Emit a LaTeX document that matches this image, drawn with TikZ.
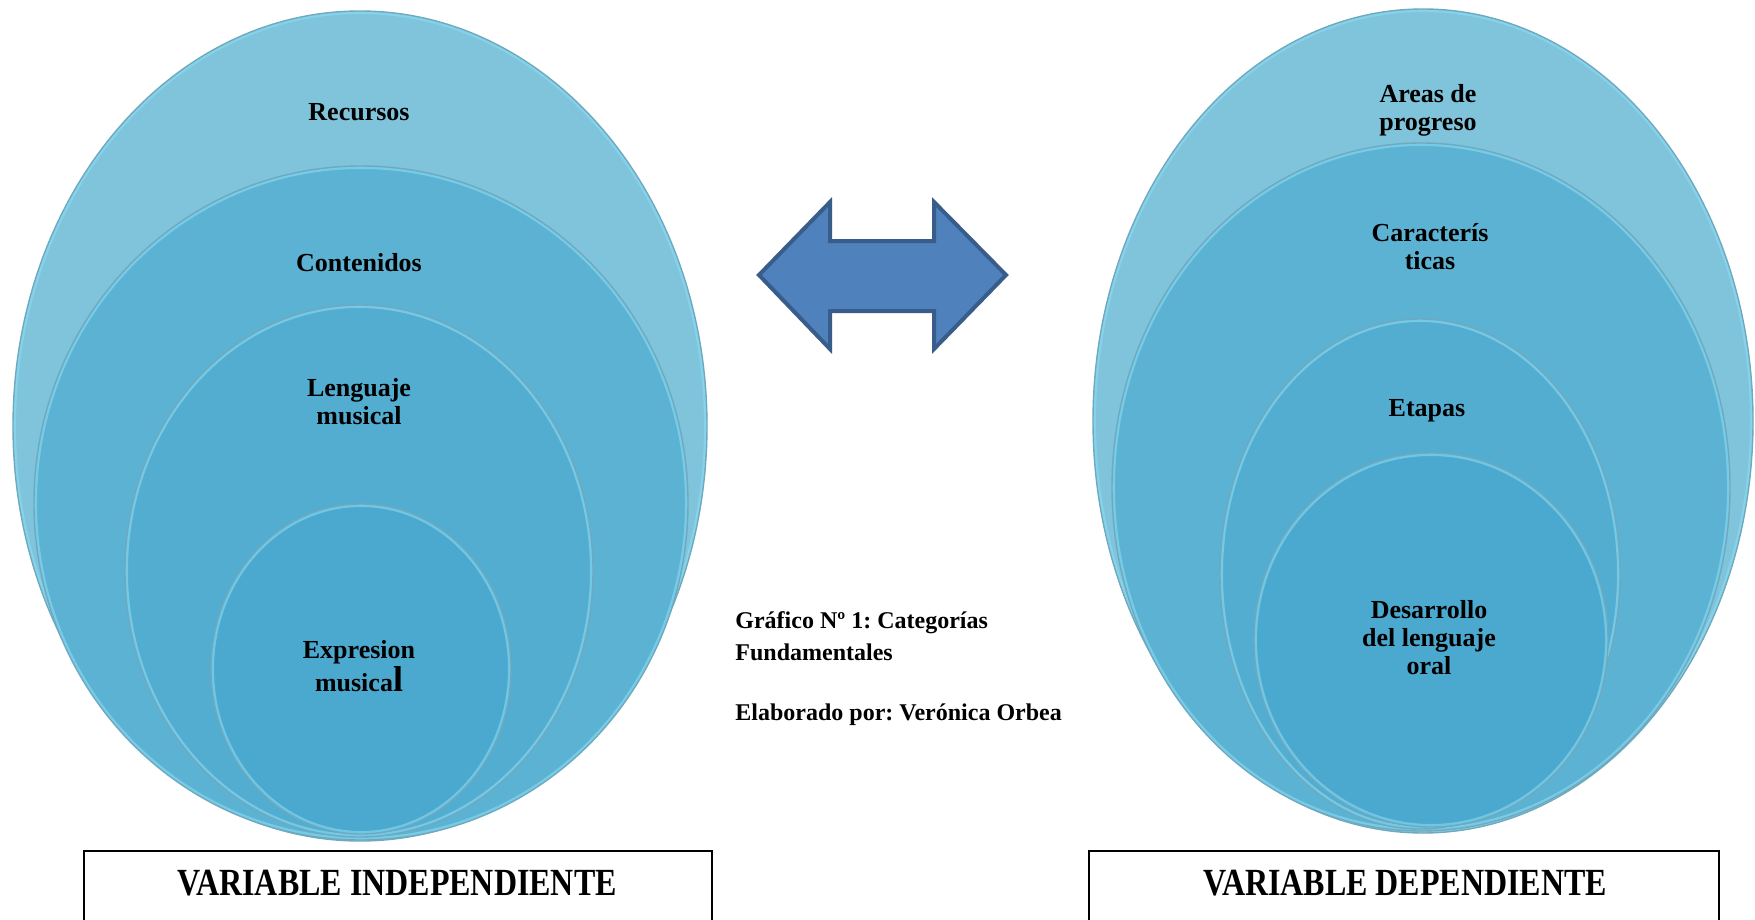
\documentclass[tikz,border=0pt]{standalone}
\usepackage{graphicx}
\usepackage{fontspec}
\setmainfont{Liberation Serif}
\usetikzlibrary{positioning}
\frenchspacing

\definecolor{ringA}{HTML}{80C4DC}
\definecolor{ringB}{HTML}{5CB2D2}
\definecolor{ringC}{HTML}{52ADD1}
\definecolor{ringD}{HTML}{4BA9CF}
\definecolor{rimcol}{HTML}{6FA9BE}
\definecolor{glowcol}{HTML}{8ADCF5}
\definecolor{arrowfill}{HTML}{4F81BD}
\definecolor{arrowline}{HTML}{385D8A}

\tikzset{
  rimglow/.style={draw=glowcol, line width=3pt, opacity=0.6},
  rimline/.style={draw=rimcol, line width=0.7pt},
  ringlabel/.style={font=\bfseries\fontsize{13}{14}\selectfont, align=center, inner sep=0pt},
  caption/.style={font=\bfseries\fontsize{12}{16}\selectfont, align=left, inner sep=0pt},
  vartitle/.style={font=\bfseries\fontsize{16}{18}\selectfont, inner sep=0pt},
  varframe/.style={draw=black, line width=1pt},
  dblarrow/.style={fill=arrowfill, draw=arrowline, line width=2pt, line join=miter}
}

\begin{document}
\begin{tikzpicture}[x=0.5pt, y=-0.5pt]
  \useasboundingbox (0,0) rectangle (1755,920);

  % Rings, outer first: centre x/y, radii, colour
  \foreach \cx/\cy/\rx/\ry/\col in {
    360/426/347/415/ringA,
    361/503/327/337/ringB,
    359/571/234/266/ringC,
    361/669/150/165/ringD,
    1423/421/330/412/ringA,
    1421/487/309/344/ringB,
    1420/574/200/255/ringC,
    1431/640/177/187/ringD%
  }{
    \fill[fill=\col] (\cx,\cy) ellipse [x radius=\rx, y radius=\ry];
    \begin{scope}
      \clip (\cx,\cy) ellipse [x radius=\rx, y radius=\ry];
      \draw[rimglow] (\cx,\cy) ellipse [x radius=\rx, y radius=\ry];
    \end{scope}
    \draw[rimline] (\cx,\cy) ellipse [x radius=\rx, y radius=\ry];
  }

  % Labels of the left rings
  \node[ringlabel] (recursos) at (359,112) {Recursos};
  \node[ringlabel] (contenidos) at (359,263) {Contenidos};
  \node[ringlabel] (lenguaje) at (359,402) {Lenguaje\\musical};
  \node[ringlabel] (expresion) at (359,666) {Expresion\\musica{\fontsize{18}{18}\selectfont l}};

  % Labels of the right rings
  \node[ringlabel] (areas) at (1428,110) {Areas de\\progreso};
  \node[ringlabel] (caracteristicas) at (1430,247) {Caracterís\\ticas};
  \node[ringlabel] (etapas) at (1427,411) {Etapas};
  \node[ringlabel] (desarrollo) at (1429,638) {Desarrollo\\del lenguaje\\oral};

  % Double arrow between the two sets
  \draw[dblarrow]
    (759,275) -- (830,202) -- (830,241) -- (934,241) -- (934,202) --
    (1006,275) -- (934,349) -- (934,311) -- (830,311) -- (830,349) -- cycle;

  % Caption (base = last line)
  \node[caption, anchor=base west] (grafico) at (735,720)
    {Gráfico Nº 1: Categorías\\Fundamentales\\[14pt]Elaborado por: Verónica Orbea};

  % Variable boxes, cut at the lower edge
  \draw[varframe] (84,921) |- (712,851) -- (712,921);
  \node[vartitle] (indep) at (397,883) {\scalebox{1}[1.2]{VARIABLE INDEPENDIENTE}};
  \draw[varframe] (1089,921) |- (1719,851) -- (1719,921);
  \node[vartitle] (dep) at (1405,883) {\scalebox{1}[1.2]{VARIABLE DEPENDIENTE}};

\end{tikzpicture}
\end{document}
